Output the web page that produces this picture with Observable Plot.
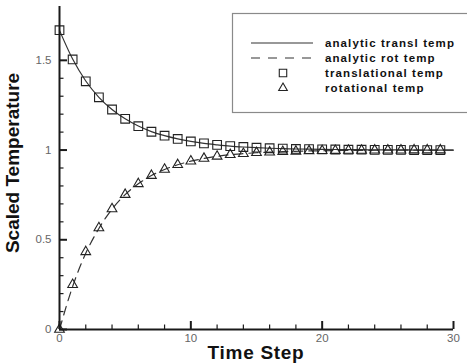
<!DOCTYPE html>
<html>
<head>
<meta charset="utf-8">
<script src="https://cdn.jsdelivr.net/npm/d3@7"></script>
<script src="https://cdn.jsdelivr.net/npm/@observablehq/plot@0.6"></script>
<style>
  html, body { margin: 0; padding: 0; background: #fff; }
  #chart { position: relative; width: 467px; height: 364px; overflow: hidden; }
</style>
</head>
<body>
<div id="chart"></div>
<script>
// ---- data ----
const markerSteps = [0,1,2,3,4,5,6,7,8,9,10,11,12,13,14,15,16,17,18,19,20,21,22,23,24,25,26,27,28,29];
const translTemp = [1.668,1.505,1.383,1.294,1.226,1.174,1.133,1.102,1.080,1.062,1.048,1.037,1.029,1.022,1.017,1.013,1.010,1.008,1.006,1.005,1.004,1.003,1.002,1.002,1.001,1.001,1.001,1.000,1.000,1.000];
const rotTemp    = [0.000,0.250,0.433,0.566,0.672,0.752,0.812,0.858,0.892,0.918,0.938,0.953,0.965,0.974,0.980,0.985,0.988,0.991,0.993,0.995,0.996,0.997,0.998,0.998,0.999,0.999,0.999,1.000,1.000,1.000];

const curveSteps = [0,1,2,3,4,5,6,7,8,9,10,11,12,13,14,15,16,17,18,19,20,21,22,23,24,25,26,27,28,29,30];
const analyticTransl = [1.667,1.507,1.385,1.294,1.226,1.174,1.134,1.103,1.080,1.062,1.048,1.037,1.029,1.022,1.017,1.013,1.010,1.008,1.006,1.005,1.004,1.003,1.002,1.002,1.001,1.001,1.001,1.000,1.000,1.000,1.000];
const analyticRot    = [0.000,0.240,0.425,0.563,0.671,0.752,0.812,0.858,0.892,0.918,0.938,0.953,0.965,0.974,0.980,0.985,0.988,0.991,0.993,0.995,0.996,0.997,0.998,0.998,0.999,0.999,0.999,1.000,1.000,1.000,1.000];

const xMajorTicks = [0, 10, 20, 30];
const xMinorTicks = [2,4,6,8,12,14,16,18,22,24,26,28];
const yMajorTicks = [0, 0.5, 1, 1.5];
const yTickLabels = ["0", "0.5", "1", "1.5"];
const yMinorTicks = [0.1,0.2,0.3,0.4,0.6,0.7,0.8,0.9,1.1,1.2,1.3,1.4];

const legendLabels = ["analytic transl temp", "analytic rot temp", "translational temp", "rotational temp"];
const xTitle = "Time Step";
const yTitle = "Scaled Temperature";

// ---- tables ----
const markers = markerSteps.map((s, i) => ({step: s, transl: translTemp[i], rot: rotTemp[i]}));
const curves = curveSteps.map((s, i) => ({step: s, transl: analyticTransl[i], rot: analyticRot[i]}));

const FONT = "'Liberation Sans', Arial, Helvetica, sans-serif";
const AXIS = "#1a1a1a";
const LINE = "#333";

const plot = Plot.plot({
  width: 467,
  height: 364,
  marginLeft: 59,
  marginRight: 14,
  marginTop: 6,
  marginBottom: 35,
  style: {fontFamily: FONT, background: "#fff", overflow: "visible"},
  x: {domain: [0, 30], label: null},
  y: {domain: [0, 1.8], label: null},
  marks: [
    // analytic curves
    Plot.line(curves, {x: "step", y: "transl", stroke: LINE, strokeWidth: 1.2, curve: "monotone-x"}),
    Plot.line(curves, {x: "step", y: "rot", stroke: LINE, strokeWidth: 1.2, strokeDasharray: "9,6", curve: "monotone-x"}),
    // markers
    Plot.dot(markers, {x: "step", y: "transl", symbol: "square", r: 4.9, stroke: "#222", strokeWidth: 1.1, fill: "none"}),
    Plot.dot(markers, {x: "step", y: "rot", symbol: "triangle", r: 3.6, stroke: "#222", strokeWidth: 1.1, fill: "none"}),
    // axis lines
    Plot.ruleX([0], {stroke: AXIS, strokeWidth: 2, y1: 0, y2: 1.8}),
    Plot.ruleY([0], {stroke: AXIS, strokeWidth: 2}),
    // y ticks (inward)
    Plot.axisY({ticks: yMajorTicks, tickSize: -8, text: null, label: null, stroke: AXIS, strokeWidth: 2}),
    Plot.axisY({ticks: yMinorTicks, tickSize: -4.5, text: null, label: null, stroke: AXIS, strokeWidth: 1.2}),
    Plot.axisY({ticks: yMajorTicks, tickSize: 0, tickPadding: 8, tickFormat: d => yTickLabels[yMajorTicks.indexOf(d)], label: null, fill: "#666", fontSize: 11.5}),
    // x ticks (inward)
    Plot.axisX({ticks: xMajorTicks, tickSize: -8, text: null, label: null, stroke: AXIS, strokeWidth: 2}),
    Plot.axisX({ticks: xMinorTicks, tickSize: -4.5, text: null, label: null, stroke: AXIS, strokeWidth: 1.2}),
    Plot.axisX({ticks: xMajorTicks, tickSize: 0, tickPadding: 4, tickFormat: d => String(d), label: null, fill: "#666", fontSize: 11.5})
  ]
});

document.getElementById("chart").appendChild(plot);

const svg = d3.select(plot);

// ---- axis titles ----
svg.append("text")
  .attr("x", 256).attr("y", 359)
  .attr("text-anchor", "middle")
  .attr("font-family", FONT).attr("font-size", 19).attr("font-weight", "bold")
  .attr("letter-spacing", "0.7px")
  .attr("fill", "#111").text(xTitle);
svg.append("text")
  .attr("transform", "translate(18.5,163) rotate(-90)")
  .attr("text-anchor", "middle")
  .attr("font-family", FONT).attr("font-size", 19).attr("font-weight", "bold")
  .attr("fill", "#111").text(yTitle);

// ---- legend (drawn into the same SVG) ----
const lg = svg.append("g").attr("font-family", FONT);
lg.append("rect").attr("x", 232.5).attr("y", 13.5).attr("width", 260).attr("height", 99)
  .attr("fill", "#fff").attr("stroke", "#8a8a8a").attr("stroke-width", 1.2);
const rowY = [43, 58, 73, 88];
lg.append("line").attr("x1", 251).attr("x2", 313).attr("y1", rowY[0]).attr("y2", rowY[0]).attr("stroke", LINE).attr("stroke-width", 1.2);
lg.append("line").attr("x1", 251).attr("x2", 315).attr("y1", rowY[1]).attr("y2", rowY[1]).attr("stroke", LINE).attr("stroke-width", 1.2).attr("stroke-dasharray", "9,8");
lg.append("path").attr("d", d3.symbol(d3.symbolSquare, Math.PI * 4.2 * 4.2)()).attr("transform", `translate(283,${rowY[2]})`).attr("fill", "none").attr("stroke", "#222").attr("stroke-width", 1.1);
lg.append("path").attr("d", d3.symbol(d3.symbolTriangle, Math.PI * 3.2 * 3.2)()).attr("transform", `translate(283,${rowY[3]})`).attr("fill", "none").attr("stroke", "#222").attr("stroke-width", 1.1);
legendLabels.forEach((t, i) => {
  lg.append("text").attr("x", 325).attr("y", rowY[i]).attr("dy", "0.35em")
    .attr("text-anchor", "start")
    .attr("font-size", 11.5).attr("font-weight", "bold").attr("letter-spacing", "1.1px")
    .attr("fill", "#111").text(t);
});
</script>
</body>
</html>
